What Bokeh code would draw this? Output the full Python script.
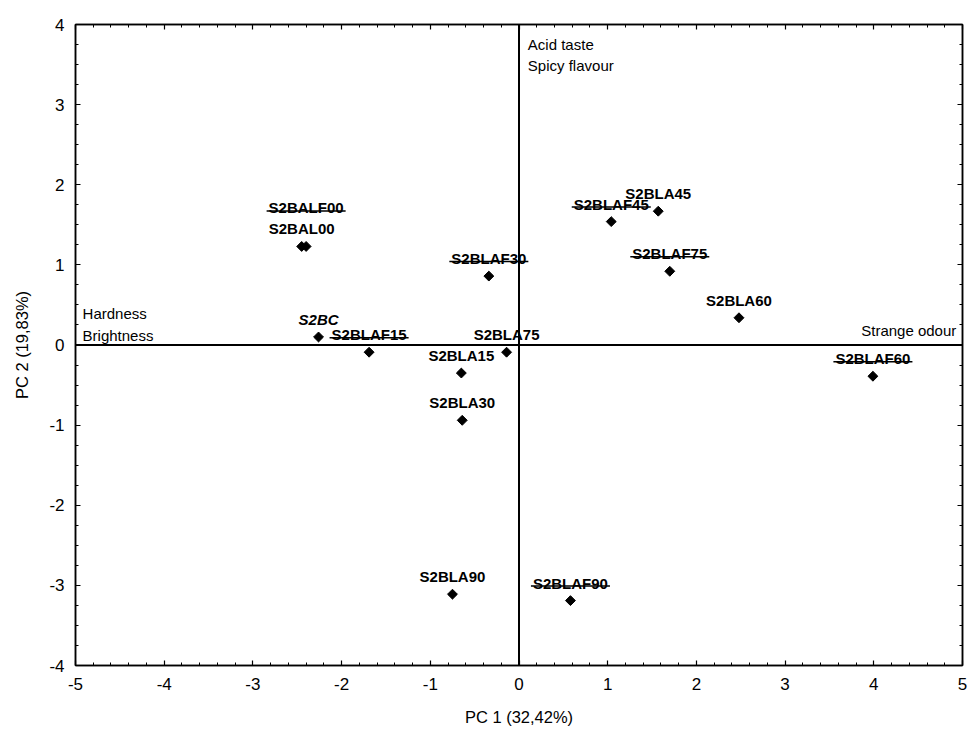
import numpy as np
from bokeh.plotting import figure
from bokeh.models import (ColumnDataSource, LabelSet, Span, LinearAxis,
                          SingleIntervalTicker, Range1d)
from bokeh.core.properties import value
from bokeh.embed import file_html
from bokeh.resources import INLINE

# ---- data ----
sample_names = ["S2BAL00", "S2BALF00", "S2BC", "S2BLAF15", "S2BLA15", "S2BLA75",
                "S2BLA30", "S2BLAF30", "S2BLAF45", "S2BLA45", "S2BLAF75",
                "S2BLA60", "S2BLAF60", "S2BLA90", "S2BLAF90"]
pc1_scores = [-2.45, -2.40, -2.26, -1.69, -0.65, -0.14,
              -0.64, -0.34, 1.04, 1.57, 1.70,
              2.48, 3.99, -0.75, 0.58]
pc2_scores = [1.23, 1.23, 0.10, -0.09, -0.35, -0.09,
              -0.94, 0.86, 1.54, 1.67, 0.92,
              0.34, -0.39, -3.11, -3.19]

variable_names = ["Hardness", "Brightness", "Acid taste", "Spicy flavour", "Strange odour"]
variable_x = [-4.92, -4.92, 0.10, 0.10, 4.93]
variable_y = [0.32, 0.05, 3.68, 3.42, 0.11]
variable_align = ["left", "left", "left", "left", "right"]

x_ticks = [-5, -4, -3, -2, -1, 0, 1, 2, 3, 4, 5]
y_ticks = [-4, -3, -2, -1, 0, 1, 2, 3, 4]

x_title = "PC 1 (32,42%)"
y_title = "PC 2 (19,83%)"

# ---- layout / style ----
W, H = 968, 733
BL, BR, BT, BB = 75, 6, 24, 68
frame_h = H - BT - BB
ppu_y = frame_h / 8.0
FONT = "Liberation Sans"
LABEL_PX = 15

# label offsets above marker (px): second overlapping point label stacked higher
label_dy = [12 if n != "S2BALF00" else 33 for n in sample_names]

# Liberation Sans Bold advance widths (per 1000 em)
bold_w = {"S": 667, "B": 722, "A": 722, "L": 611, "F": 611, "C": 722}
def text_w(s):
    return sum(bold_w.get(c, 556) for c in s) * LABEL_PX / 1000.0

p = figure(width=W, height=H, output_backend="svg", toolbar_location=None,
           x_range=Range1d(-5, 5), y_range=Range1d(-4, 4),
           min_border_left=BL, min_border_right=BR, min_border_top=BT,
           min_border_bottom=BB, x_axis_location=None, y_axis_location=None)
p.xgrid.visible = False
p.ygrid.visible = False
p.outline_line_color = "black"
p.outline_line_width = 1.5
p.background_fill_color = "white"
p.border_fill_color = "white"

def make_axis(kind, labels):
    ax = LinearAxis()
    if kind == "x":
        ax.ticker = SingleIntervalTicker(interval=1, num_minor_ticks=5)
        ticks = x_ticks
    else:
        ax.ticker = SingleIntervalTicker(interval=1, num_minor_ticks=4)
        ticks = y_ticks
    ax.major_tick_in = 5
    ax.major_tick_out = 0
    ax.minor_tick_in = 3
    ax.minor_tick_out = 0
    ax.axis_line_color = "black"
    ax.axis_line_width = 1.5
    ax.major_tick_line_color = "black"
    ax.minor_tick_line_color = "black"
    ax.major_tick_line_width = 1.2
    ax.minor_tick_line_width = 1
    if labels:
        ax.major_label_overrides = {t: str(t) for t in ticks}
        ax.major_label_text_font = FONT
        ax.major_label_text_font_size = "17px"
        ax.major_label_text_color = "black"
        ax.axis_label_text_font = FONT
        ax.axis_label_text_font_size = "16.5px"
        ax.axis_label_text_font_style = "normal"
        ax.axis_label_text_color = "black"
    else:
        ax.major_label_text_font_size = "0px"
        ax.major_label_text_color = None
        ax.major_label_standoff = 0
    return ax

xb = make_axis("x", True)
xb.axis_label = x_title
xb.major_label_standoff = 12
xb.axis_label_standoff = 15
p.add_layout(xb, "below")

yl = make_axis("y", True)
yl.axis_label = y_title
yl.major_label_standoff = 11
yl.axis_label_standoff = 15
p.add_layout(yl, "left")

p.add_layout(make_axis("x", False), "above")
p.add_layout(make_axis("y", False), "right")

# zero lines
p.add_layout(Span(location=0, dimension="height", line_color="black", line_width=2))
p.add_layout(Span(location=0, dimension="width", line_color="black", line_width=2))

src = ColumnDataSource(dict(x=pc1_scores, y=pc2_scores, name=sample_names, dy=label_dy))

p.scatter("x", "y", source=src, marker="square", angle=np.pi / 4, size=7,
          fill_color="black", line_color="black")

normal_idx = [i for i, n in enumerate(sample_names) if n != "S2BC"]
ital_idx = [i for i, n in enumerate(sample_names) if n == "S2BC"]

def sub(idx):
    return ColumnDataSource(dict(x=[pc1_scores[i] for i in idx],
                                 y=[pc2_scores[i] for i in idx],
                                 name=[sample_names[i] for i in idx],
                                 dy=[label_dy[i] for i in idx]))

p.add_layout(LabelSet(x="x", y="y", text="name", source=sub(normal_idx),
                      y_offset="dy", text_align="center", text_baseline="alphabetic",
                      text_font=value(FONT), text_font_size=f"{LABEL_PX}px",
                      text_font_style="bold", text_color="black"))
p.add_layout(LabelSet(x="x", y="y", text="name", source=sub(ital_idx),
                      y_offset="dy", text_align="center", text_baseline="alphabetic",
                      text_font=value(FONT), text_font_size=f"{LABEL_PX}px",
                      text_font_style="bold italic", text_color="black"))

# strike lines under the "F" sample labels
f_idx = [i for i, n in enumerate(sample_names) if "F" in n]
p.scatter([pc1_scores[i] for i in f_idx],
          [pc2_scores[i] + (label_dy[i] + 2.5) / ppu_y for i in f_idx],
          marker="dash", size=[text_w(sample_names[i]) + 4 for i in f_idx],
          line_color="black", line_width=1.5)

# variable (loading) labels
p.add_layout(LabelSet(x="x", y="y", text="t", text_align="a",
                      source=ColumnDataSource(dict(x=variable_x, y=variable_y,
                                                   t=variable_names, a=variable_align)),
                      text_baseline="alphabetic", text_font=value(FONT),
                      text_font_size="15px", text_color="black"))

open("out.html", "w").write(file_html(p, INLINE))
